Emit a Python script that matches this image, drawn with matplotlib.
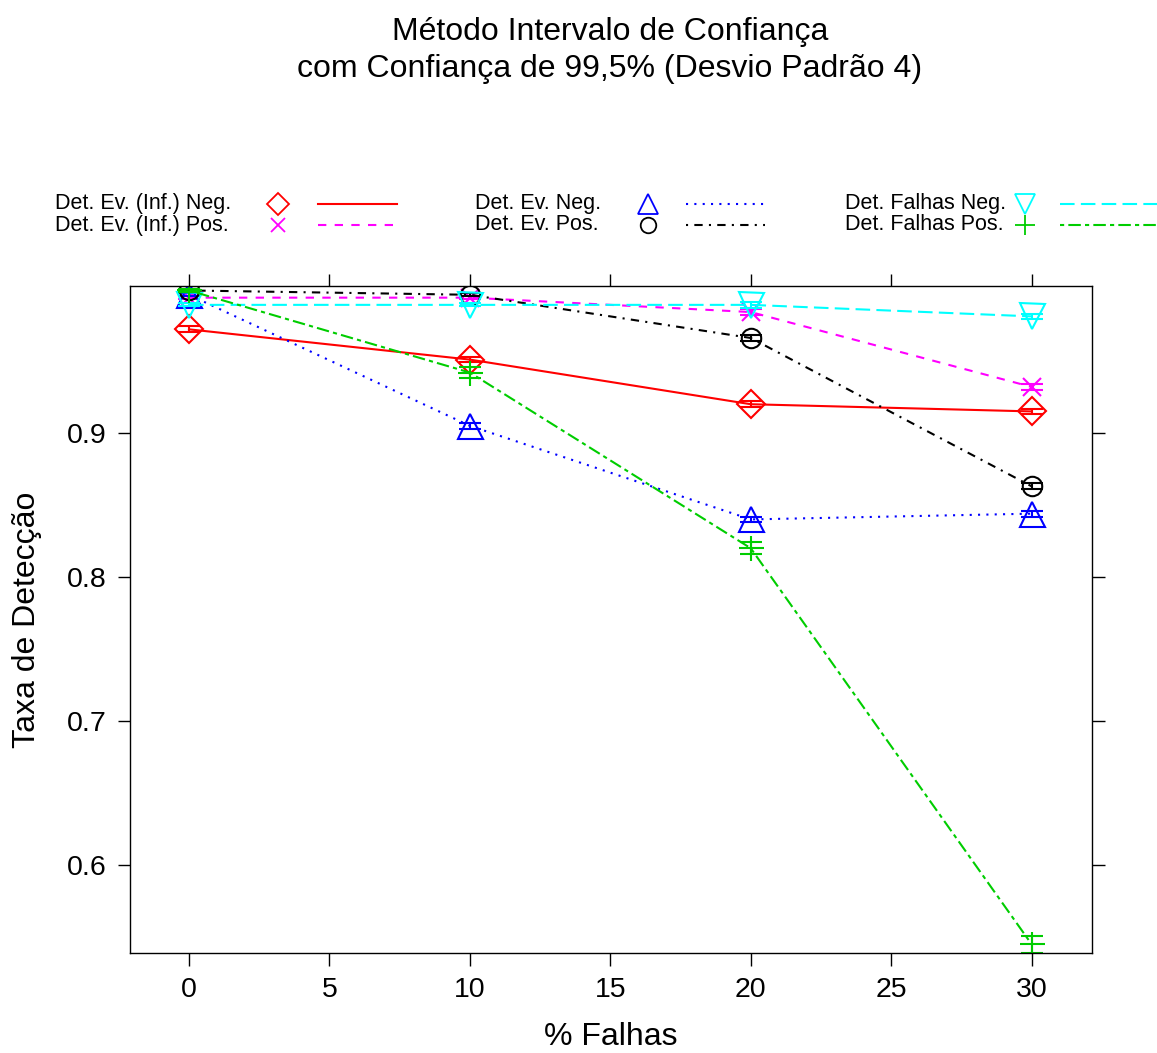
import matplotlib
matplotlib.use('Agg')
from matplotlib import pyplot as plt

plt.rcParams['font.family'] = ['Liberation Sans', 'DejaVu Sans']

# % de falhas injetadas
falhas = [0, 10, 20, 30]

# taxa de deteccao media por metodo
ev_inf_neg = [0.972, 0.951, 0.920, 0.915]
ev_inf_pos = [0.994, 0.994, 0.984, 0.932]
ev_neg = [0.996, 0.905, 0.840, 0.844]
ev_pos = [0.999, 0.996, 0.966, 0.863]
falhas_neg = [0.989, 0.989, 0.989, 0.981]
falhas_pos = [0.999, 0.942, 0.820, 0.545]

# meia largura do intervalo de confianca
ic_ev_inf_neg = [0.002, 0.002, 0.002, 0.002]
ic_ev_inf_pos = [0.001, 0.001, 0.002, 0.002]
ic_ev_neg = [0.001, 0.002, 0.002, 0.002]
ic_ev_pos = [0.001, 0.001, 0.002, 0.002]
ic_falhas_neg = [0.001, 0.001, 0.002, 0.002]
ic_falhas_pos = [0.001, 0.004, 0.004, 0.006]

nomes = ['Det. Ev. (Inf.) Neg.', 'Det. Ev. (Inf.) Pos.', 'Det. Ev. Neg.',
         'Det. Ev. Pos.', 'Det. Falhas Neg.', 'Det. Falhas Pos.']

x_ticks = [0, 5, 10, 15, 20, 25, 30]
y_ticks = [0.6, 0.7, 0.8, 0.9]

lw = 1.5
series = [
    (ev_inf_neg, ic_ev_inf_neg, '#FF0000', 'D', 14.5, None),
    (ev_inf_pos, ic_ev_inf_pos, '#FF00FF', 'x', 13, (4, 4)),
    (ev_neg, ic_ev_neg, '#0000FF', '^', 18, (1, 3)),
    (ev_pos, ic_ev_pos, '#000000', 'o', 14, (1, 3, 4, 3)),
    (falhas_neg, ic_falhas_neg, '#00FFFF', 'v', 18, (7, 3)),
    (falhas_pos, ic_falhas_pos, '#00CD00', '+', 18, (2, 2, 6, 2)),
]

fig = plt.figure(figsize=(11.57, 10.53), dpi=100)
ax = fig.add_axes([130 / 1157, 1 - 953 / 1053, (1092 - 130) / 1157, (953 - 286) / 1053])

for (y, ic, cor, mk, ms, dash) in series:
    ls = '-' if dash is None else (0, dash)
    ax.plot(falhas, y, color=cor, lw=lw, linestyle=ls)
    ax.plot(falhas, y, color=cor, lw=0, marker=mk, ms=ms, mfc='none',
            mec=cor, mew=lw)
    ax.errorbar(falhas, y, yerr=ic, fmt='none', ecolor=cor, elinewidth=lw,
                capsize=8, capthick=lw)

ax.set_xlim(-2.1, 32.15)
ax.set_ylim(0.5389, 1.0021)
ax.set_xticks(x_ticks)
ax.set_yticks(y_ticks)
ax.set_yticklabels(['0.6', '0.7', '0.8', '0.9'])
ax.tick_params(direction='out', length=9, width=1, labelsize=20.5,
               top=True, right=True, pad=8)
for s in ax.spines.values():
    s.set_linewidth(1)

ax.set_xlabel('% Falhas', fontsize=23, labelpad=14)
ax.set_ylabel('Taxa de Detecção', fontsize=23, labelpad=18)

fig.text(0.527, 0.970, 'Método Intervalo de Confiança', ha='center',
         va='center', fontsize=23)
fig.text(0.527, 0.934, 'com Confiança de 99,5% (Desvio Padrão 4)', ha='center',
         va='center', fontsize=23)

# legenda em tres colunas: texto, simbolo, linha
lg = fig.add_axes([0, 0, 1, 1])
lg.set_xlim(0, 1157)
lg.set_ylim(1053, 0)
lg.axis('off')
col_txt = [55, 475, 845]
col_sym = [278, 648, 1025]
col_lin = [(318, 397), (686, 765), (1060, 1157)]
linhas_y = [204, 225]
for i, (y, ic, cor, mk, ms, dash) in enumerate(series):
    c, r = divmod(i, 2)
    ly = linhas_y[r]
    lg.text(col_txt[c], ly, nomes[i], ha='left', va='center', fontsize=15.5)
    lg.plot([col_sym[c]], [ly], color=cor, lw=0, marker=mk, ms=ms * 0.8,
            mfc='none', mec=cor, mew=1.3)
    ls = '-' if dash is None else (0, dash)
    lg.plot(list(col_lin[c]), [ly, ly], color=cor, lw=lw, linestyle=ls)

fig.savefig('out.png', dpi=100)
